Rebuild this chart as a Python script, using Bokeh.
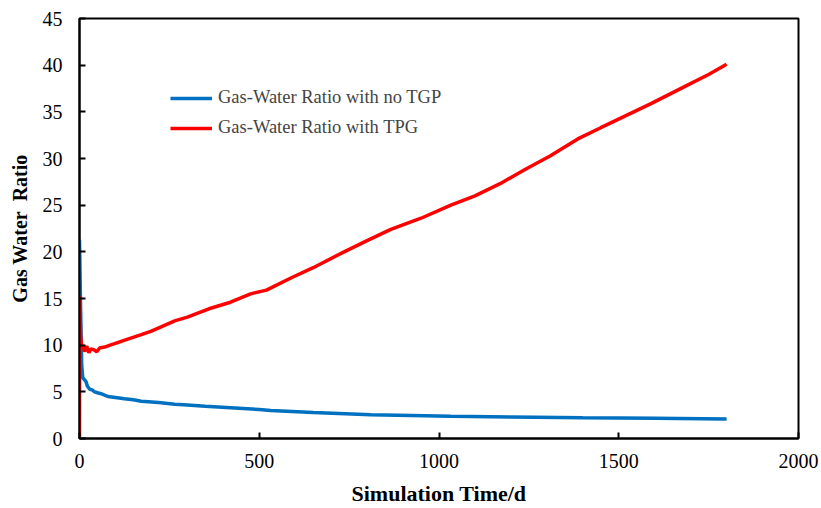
from bokeh.plotting import figure
from bokeh.models import Range1d, Legend, LegendItem, FixedTicker
from bokeh.embed import file_html
from bokeh.resources import INLINE

# Data
red_days = [0, 0.5, 3, 6, 10, 14, 20, 26, 32, 40, 48, 56, 70, 85, 100, 130, 170, 200, 265, 300,
            360, 420, 476, 520, 588, 650, 736, 800, 866, 950, 1033, 1100, 1170, 1238, 1310,
            1386, 1450, 1520, 1591, 1683, 1750, 1800]
red_ratio = [0, 15.3, 11.0, 9.8, 10.0, 9.3, 9.9, 9.2, 9.6, 9.5, 9.3, 9.7, 9.8, 10.0, 10.2, 10.6,
             11.1, 11.5, 12.6, 13.0, 13.9, 14.6, 15.5, 15.9, 17.2, 18.3, 20.0, 21.2, 22.4, 23.6,
             25.0, 26.0, 27.3, 28.8, 30.3, 32.1, 33.3, 34.6, 35.9, 37.7, 39.0, 40.1]

blue_days = [0, 3, 6, 9, 14, 18, 22, 28, 35, 42, 50, 60, 79, 100, 125, 150, 172, 220, 265, 300,
             350, 420, 500, 532, 650, 810, 1033, 1200, 1400, 1600, 1800]
blue_ratio = [21.3, 14.0, 8.0, 6.5, 6.3, 6.1, 5.6, 5.3, 5.2, 5.0, 4.9, 4.8, 4.5, 4.4, 4.26, 4.15,
              4.0, 3.85, 3.68, 3.6, 3.45, 3.3, 3.1, 3.0, 2.78, 2.55, 2.38, 2.3, 2.22, 2.17, 2.1]

x_ticks = [0, 500, 1000, 1500, 2000]
y_ticks = [0, 5, 10, 15, 20, 25, 30, 35, 40, 45]

labels = ["Gas-Water Ratio with no TGP", "Gas-Water Ratio with TPG"]
colors = ["#0070C0", "#FF0000"]

FONT = "Liberation Serif"

p = figure(width=821, height=508, output_backend="svg", toolbar_location=None,
           x_range=Range1d(0, 2000), y_range=Range1d(0, 45),
           min_border_left=79, min_border_right=23, min_border_top=18, min_border_bottom=69)

p.background_fill_color = "white"
p.border_fill_color = "white"
p.outline_line_color = "black"
p.outline_line_width = 2
p.xgrid.visible = False
p.ygrid.visible = False

r_blue = p.line(blue_days, blue_ratio, line_color=colors[0], line_width=3.5)
r_red = p.line(red_days, red_ratio, line_color=colors[1], line_width=3.5)

for ax in (p.xaxis[0], p.yaxis[0]):
    ax.axis_line_color = "black"
    ax.axis_line_width = 2
    ax.major_tick_line_color = "black"
    ax.major_tick_line_width = 2
    ax.major_tick_in = 6
    ax.major_tick_out = 0
    ax.minor_tick_line_color = None
    ax.major_label_text_font = FONT
    ax.major_label_text_font_size = "20px"
    ax.major_label_text_color = "black"
    ax.axis_label_text_font = FONT
    ax.axis_label_text_font_style = "bold"
    ax.axis_label_text_color = "black"

p.xaxis.ticker = FixedTicker(ticks=x_ticks)
p.yaxis.ticker = FixedTicker(ticks=y_ticks)
p.xaxis.axis_label = "Simulation Time/d"
p.yaxis.axis_label = "Gas Water\u00a0 Ratio"
p.xaxis.axis_label_text_font_size = "22px"
p.yaxis.axis_label_text_font_size = "20px"
p.xaxis.major_label_standoff = 15
p.yaxis.major_label_standoff = 17
p.xaxis.axis_label_standoff = 10
p.yaxis.axis_label_standoff = 9

legend = Legend(items=[LegendItem(label=labels[0], renderers=[r_blue]),
                       LegendItem(label=labels[1], renderers=[r_red])],
                location=(91, 300), padding=0, margin=0, spacing=9,
                glyph_width=42, glyph_height=20, label_height=20, label_standoff=6,
                label_text_font=FONT, label_text_font_size="18.5px",
                border_line_color=None, background_fill_alpha=0)
p.add_layout(legend)

open("out.html", "w").write(file_html(p, INLINE))
